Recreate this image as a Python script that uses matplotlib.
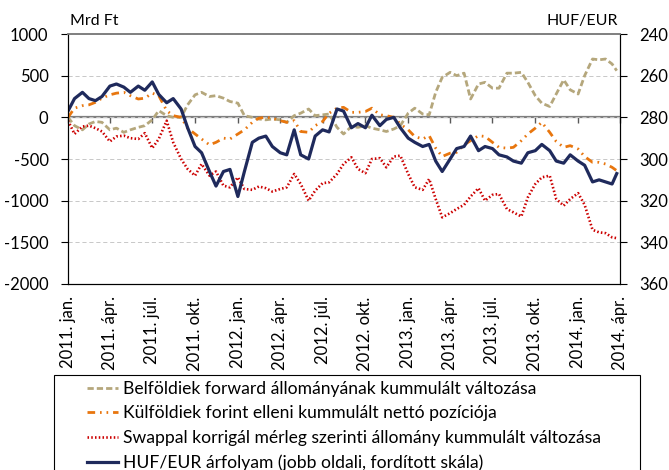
import numpy as np
import pandas as pd
import matplotlib
matplotlib.use('Agg')
import matplotlib.pyplot as plt
from matplotlib.patches import Rectangle

plt.rcParams['font.family'] = ['Lato', 'DejaVu Sans']
plt.rcParams['lines.scale_dashes'] = False
plt.rcParams['axes.unicode_minus'] = False

# semi-monthly points, 2011 jan - 2014 marc.
dates = pd.date_range('2011-01-01', '2014-03-15', freq='SMS').append(pd.DatetimeIndex(['2014-03-25']))

belf = [0, -100, -150, -80, -50, -60, -150, -130, -180, -150, -120, -100,
        -30, 80, 20, 0, 0, 150, 270, 300, 250, 260, 230, 190,
        170, 20, 0, -20, -30, -20, -30, -60, 20, 50, 100, 20,
        30, 40, -120, -200, -110, -120, -100, -130, -150, -170, -140, -100,
        50, 110, 40, 30, 300, 480, 540, 500, 530, 220, 400, 420,
        350, 350, 530, 530, 540, 420, 260, 170, 130, 280, 450, 330,
        280, 500, 700, 690, 700, 640, 560]

kulf = [0, 110, 140, 150, 180, 230, 270, 290, 300, 260, 220, 230,
        290, 260, 80, 20, 0, -130, -200, -260, -330, -300, -250, -260,
        -200, -150, -60, -10, 0, -10, -40, -60, -40, -170, -180, -100,
        -50, 50, 110, 120, 60, 60, 70, 110, 30, 20, 0, -80,
        -150, -230, -260, -220, -370, -470, -430, -420, -330, -280, -220, -230,
        -300, -360, -370, -360, -280, -200, -130, -60, -180, -290, -360, -340,
        -380, -470, -540, -540, -560, -600, -640]

swap = [-40, -200, -110, -100, -130, -170, -290, -230, -220, -250, -260, -190,
        -370, -260, -40, -300, -500, -620, -700, -560, -700, -650, -820, -840,
        -720, -860, -870, -830, -850, -890, -860, -840, -680, -800, -1000, -880,
        -790, -780, -680, -560, -480, -620, -670, -500, -490, -600, -470, -460,
        -680, -840, -870, -740, -980, -1200, -1150, -1100, -1050, -950, -850, -1000,
        -930, -920, -1100, -1140, -1190, -960, -800, -720, -700, -980, -1060, -980,
        -910, -1050, -1350, -1380, -1390, -1440, -1450]

huf = [277, 271, 268, 271, 272, 270, 265, 264, 265.5, 268, 265, 267,
       263, 269, 273, 271, 276, 285, 294, 297, 306, 313, 306, 305,
       318, 306, 292, 290, 289, 294, 297, 298, 286, 298, 300, 289,
       286, 287, 276, 277, 285, 283, 285, 279, 284, 281, 280, 285,
       290, 292, 294, 293, 301, 306, 300, 295, 294, 289, 296, 294,
       295, 298, 299, 301, 302, 297, 296, 293, 296, 301, 302, 298,
       301, 303, 311, 310, 311, 312, 307]

labels = ['Belföldiek forward állományának kummulált változása',
          'Külföldiek forint elleni kummulált nettó pozíciója',
          'Swappal korrigál mérleg szerinti állomány kummulált változása',
          'HUF/EUR árfolyam (jobb oldali, fordított skála)']

ho = {1: 'jan.', 4: 'ápr.', 7: 'júl.', 10: 'okt.'}
ticks = pd.date_range('2011-01-01', '2014-04-01', freq='QS')
ticklabels = [f'{d.year}. {ho[d.month]}' for d in ticks]

fig = plt.figure(figsize=(6.69, 4.70), dpi=100)
ax = fig.add_axes([68/669, 1-284/470, 552/669, 250/470])
ax2 = ax.twinx()

l1, = ax.plot(dates, belf, color='#B5A77C', lw=2.0, dashes=(4.5, 2.2))
l2, = ax.plot(dates, kulf, color='#E8760E', lw=2.0, dashes=(5.5, 3.5, 1.2, 3.5, 1.2, 3.5))
l3, = ax.plot(dates, swap, color='#CC0000', lw=1.9, dashes=(1.1, 1.6))
l4, = ax2.plot(dates, huf, color='#1F2A5C', lw=2.3)

ax.set_xlim(pd.Timestamp('2011-01-01'), pd.Timestamp('2014-04-01'))
ax.set_ylim(-2000, 1000)
ax.set_yticks(np.arange(-2000, 1001, 500))
ax2.set_ylim(360, 240)
ax2.set_yticks(np.arange(240, 361, 20))

ax.set_xticks(ticks)
ax.set_xticklabels(ticklabels, rotation=90, fontsize=12)
ax.tick_params(axis='x', length=0, pad=9)
ax.tick_params(axis='y', direction='out', length=5, width=0.8, labelsize=12, pad=9)
ax2.tick_params(axis='y', direction='out', length=5, width=0.8, labelsize=12, pad=9)

ax.grid(axis='y', color='#C8C8C8', lw=0.7, ls=(0, (3, 2)))
ax.axhline(0, color='#7F7F7F', lw=1.6, zorder=1.5)

# tick marks sitting on the zero line
sec = ax.secondary_xaxis((0 - (-2000)) / 3000)
sec.set_xticks(ticks)
sec.tick_params(axis='x', direction='in', length=4, width=1, color='#595959', labeltop=False, labelbottom=False)
for s in sec.spines.values():
    s.set_visible(False)

for a in (ax, ax2):
    a.spines['top'].set_color('#7F7F7F')
    a.spines['top'].set_linewidth(1.2)
    a.spines['left'].set_linewidth(0.8)
    a.spines['right'].set_linewidth(0.8)
    a.spines['bottom'].set_linewidth(0.8)

fig.text(70/669, 1-21/470, 'Mrd Ft', ha='left', va='center', fontsize=11.5)
fig.text(618/669, 1-21/470, 'HUF/EUR', ha='right', va='center', fontsize=11.5)

fig.add_artist(Rectangle((54/669, -0.05), (640-54)/669, 1-375/470+0.05,
                         transform=fig.transFigure, fill=False, ec='black', lw=0.8))
fig.legend([l1, l2, l3, l4], labels, loc='upper left', bbox_to_anchor=(87/669, 1-381/470),
           frameon=False, fontsize=12.6, borderpad=0, borderaxespad=0,
           handlelength=1.75, handletextpad=0.3, labelspacing=0.48)

fig.savefig('out.png', dpi=100)
